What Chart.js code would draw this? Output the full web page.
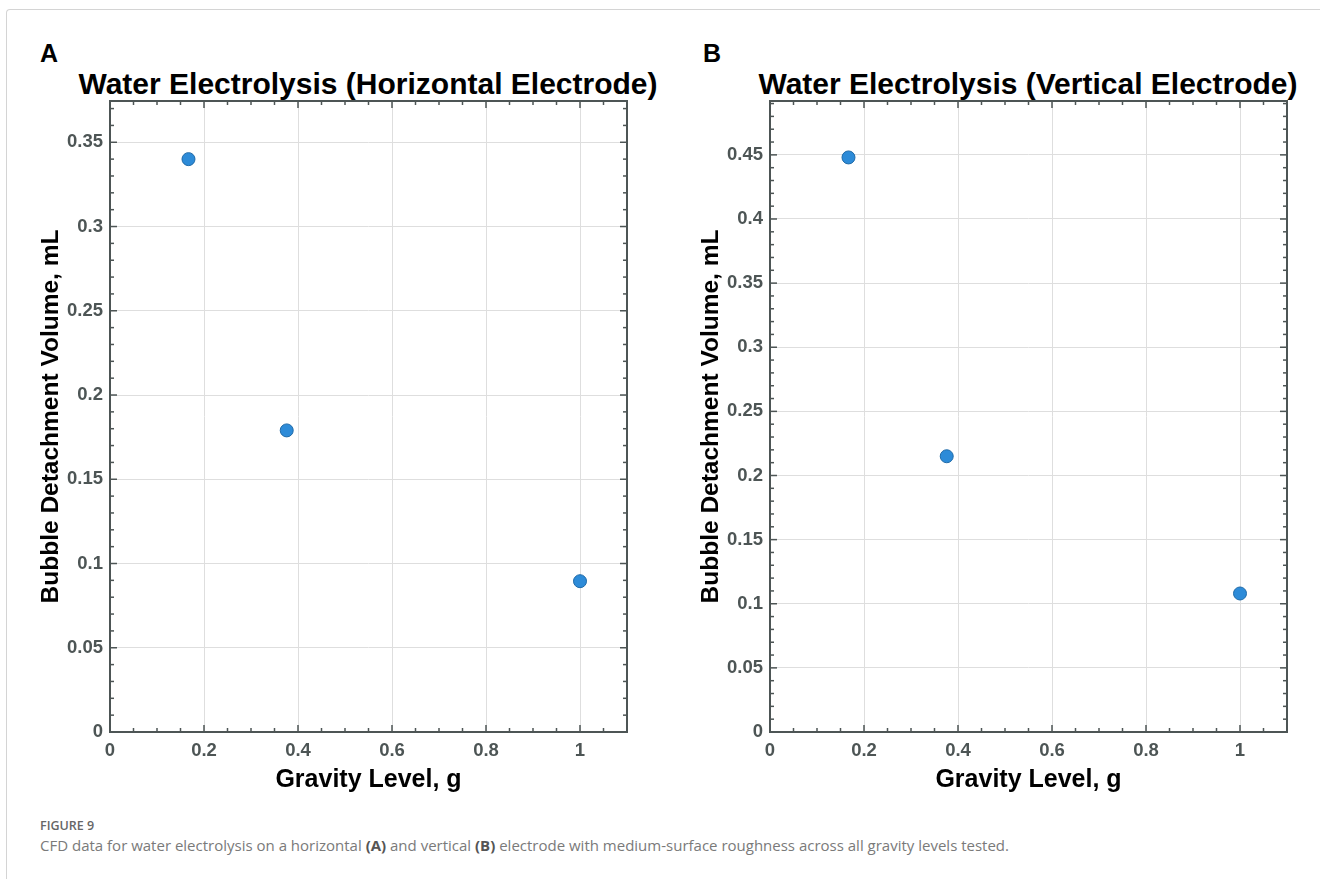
<!DOCTYPE html>
<html>
<head>
<meta charset="utf-8">
<script src="https://cdn.jsdelivr.net/npm/chart.js@4.4.1/dist/chart.umd.min.js"></script>
<style>
  html, body { margin: 0; padding: 0; background: #fff; overflow: hidden; }
  body { width: 1320px; height: 879px; position: relative; font-family: "Liberation Sans", Arial, sans-serif; }
  .frame { position: absolute; left: 6px; top: 9px; width: 1400px; height: 900px;
           border-left: 1px solid #d4d4d4; border-top: 1px solid #d4d4d4; border-top-left-radius: 4px; }
  .letter { position: absolute; top: 39px; font: bold 25px "Liberation Sans", Arial, sans-serif; color: #000; }
  .title { position: absolute; top: 67px; width: 700px; text-align: center; white-space: nowrap;
           font: bold 30px/34px "Liberation Sans", Arial, sans-serif; color: #000; }
  canvas { position: absolute; top: 0; }
  .fig { position: absolute; left: 40px; top: 817px; font: 600 12.5px "Open Sans", sans-serif; color: #666; }
  .cap { position: absolute; left: 40px; top: 835px; font: 15px "Open Sans", sans-serif; color: #7a7a7a; white-space: nowrap; }
  .cap b { color: #555; font-weight: 700; }
</style>
</head>
<body>
<div class="frame"></div>

<div class="letter" style="left:40px">A</div>
<div class="title" style="left:18px">Water Electrolysis (Horizontal Electrode)</div>
<canvas id="chartA" width="660" height="810" style="left:0"></canvas>

<div class="letter" style="left:703px">B</div>
<div class="title" style="left:678px">Water Electrolysis (Vertical Electrode)</div>
<canvas id="chartB" width="660" height="810" style="left:660px"></canvas>

<div class="fig">FIGURE 9</div>
<div class="cap">CFD data for water electrolysis on a horizontal <b>(A)</b> and vertical <b>(B)</b> electrode with medium-surface roughness across all gravity levels tested.</div>

<script>
// gravity levels tested (g)
const gravityA = [0.167, 0.376, 1];
const gravityB = [0.167, 0.376, 1];
// bubble detachment volume (mL)
const volumeA = [0.340, 0.179, 0.0895];
const volumeB = [0.448, 0.215, 0.108];
// axis ranges
const xMax = 1.1;
const yMaxA = 0.3745;
const yMaxB = 0.492;

const axisColor = '#4d5555';
const gridColor = '#dedede';
const dotFill = '#2d8bd8';
const dotEdge = '#1f6aa8';

// MATLAB style box with inward ticks (major + minor)
const boxTicks = {
    id: 'boxTicks',
    afterDraw(chart, args, opts) {
        const { ctx, chartArea: a, scales: { x, y } } = chart;
        ctx.save();
        ctx.strokeStyle = axisColor;
        ctx.lineWidth = 1.5;
        const line = (x1, y1, x2, y2) => { ctx.beginPath(); ctx.moveTo(x1, y1); ctx.lineTo(x2, y2); ctx.stroke(); };

        for (let i = 0; i * opts.xMinor <= x.max + 1e-9; i++) {
            const px = x.getPixelForValue(i * opts.xMinor);
            const len = (i % opts.xEvery === 0) ? 7 : 4;
            line(px, a.bottom, px, a.bottom - len);
            line(px, a.top, px, a.top + len);
        }
        for (let i = 0; i * opts.yMinor <= y.max + 1e-9; i++) {
            const py = y.getPixelForValue(i * opts.yMinor);
            const len = (i % opts.yEvery === 0) ? 7 : 4;
            line(a.left, py, a.left + len, py);
            line(a.right, py, a.right - len, py);
        }
        ctx.lineWidth = 2;
        ctx.strokeRect(a.left, a.top, a.right - a.left, a.bottom - a.top);
        ctx.restore();
    }
};

function makeChart(id, xs, ys, yMax) {
    new Chart(document.getElementById(id), {
        type: 'scatter',
        data: {
            datasets: [{
                data: xs.map((g, i) => ({ x: g, y: ys[i] })),
                backgroundColor: dotFill,
                borderColor: dotEdge,
                borderWidth: 1,
                pointRadius: 6.5
            }]
        },
        options: {
            responsive: false,
            animation: false,
            layout: { padding: { left: 0, right: 33, top: 101, bottom: 0 } },
            plugins: {
                legend: { display: false },
                tooltip: { enabled: false },
                boxTicks: { xMinor: 0.05, xEvery: 4, yMinor: 0.01, yEvery: 5 }
            },
            scales: {
                x: {
                    type: 'linear', min: 0, max: xMax,
                    afterFit: s => { s.height = 78; },
                    grid: { color: gridColor, lineWidth: 1, drawTicks: false },
                    border: { display: false },
                    ticks: {
                        stepSize: 0.2, includeBounds: false, padding: 8,
                        color: axisColor, font: { family: 'Liberation Sans', weight: 'bold', size: 18.5 },
                        callback: v => String(+v.toFixed(3))
                    },
                    title: {
                        display: true, text: 'Gravity Level, g', color: '#000',
                        font: { family: 'Liberation Sans', weight: 'bold', size: 25 },
                        padding: { top: 0, bottom: 15 }
                    }
                },
                y: {
                    type: 'linear', min: 0, max: yMax,
                    afterFit: s => { s.width = 110; },
                    grid: { color: gridColor, lineWidth: 1, drawTicks: false },
                    border: { display: false },
                    ticks: {
                        stepSize: 0.05, includeBounds: false, padding: 7,
                        color: axisColor, font: { family: 'Liberation Sans', weight: 'bold', size: 18.5 },
                        callback: v => String(+v.toFixed(3))
                    },
                    title: {
                        display: true, text: 'Bubble Detachment Volume, mL', color: '#000',
                        font: { family: 'Liberation Sans', weight: 'bold', size: 24.5 },
                        padding: { top: 37, bottom: 0 }
                    }
                }
            }
        },
        plugins: [boxTicks]
    });
}

makeChart('chartA', gravityA, volumeA, yMaxA);
makeChart('chartB', gravityB, volumeB, yMaxB);
</script>
</body>
</html>
